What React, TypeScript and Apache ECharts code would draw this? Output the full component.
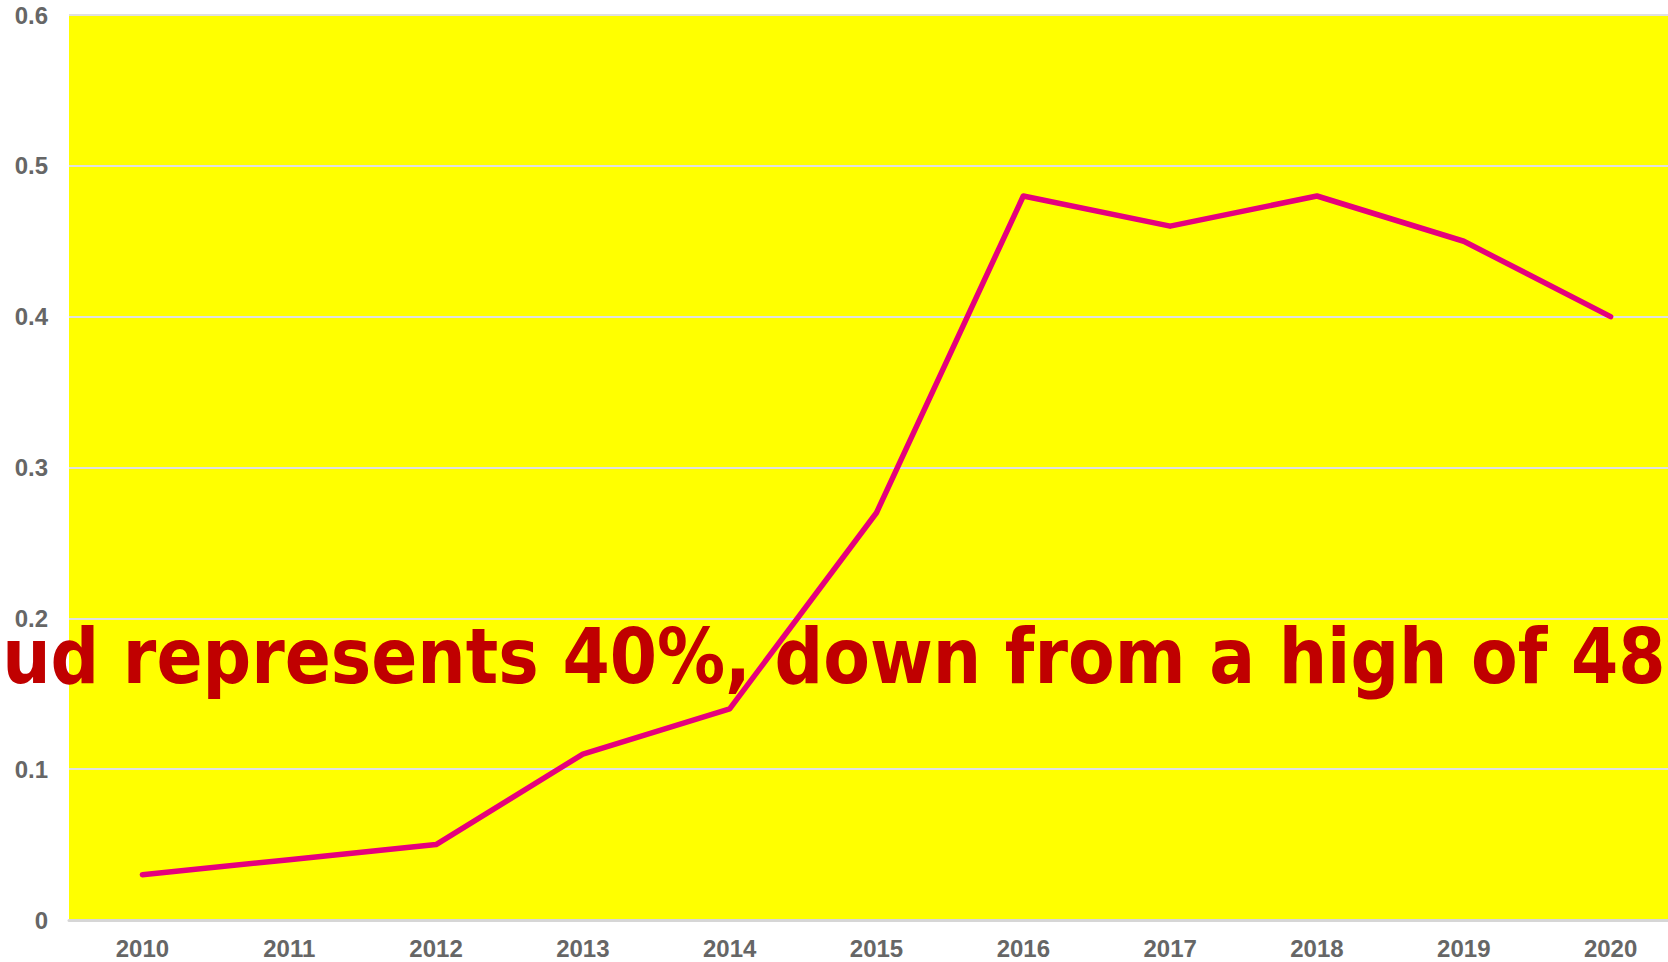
import React, { useEffect, useRef } from "react";
import * as echarts from "echarts";

const years = ["2010", "2011", "2012", "2013", "2014", "2015", "2016", "2017", "2018", "2019", "2020"];
const share = [0.03, 0.04, 0.05, 0.11, 0.14, 0.27, 0.48, 0.46, 0.48, 0.45, 0.4];
const yTicks = { min: 0, max: 0.6, interval: 0.1 };
const headline = "Cloud represents 40%, down from a high of 48%";

export default function App() {
  const ref = useRef<HTMLDivElement>(null);
  useEffect(() => {
    if (!ref.current) return;
    const chart = echarts.init(ref.current, undefined, { renderer: "svg" });
    const labelFont = { color: "#666666", fontSize: 24, fontWeight: "bold" as const, fontFamily: "Liberation Sans, Arial, sans-serif" };
    chart.setOption({
      animation: false,
      backgroundColor: "#ffffff",
      grid: {
        left: 69,
        right: 0,
        top: 15,
        bottom: 42,
        show: true,
        backgroundColor: "#ffff00",
        borderWidth: 0,
        containLabel: false,
      },
      xAxis: {
        type: "category",
        data: years,
        boundaryGap: true,
        axisTick: { show: false },
        axisLine: { show: true, lineStyle: { color: "#d6d6d6", width: 3 } },
        axisLabel: { ...labelFont, margin: 16 },
        splitLine: { show: false },
      },
      yAxis: {
        type: "value",
        min: yTicks.min,
        max: yTicks.max,
        interval: yTicks.interval,
        axisLine: { show: false },
        axisTick: { show: false },
        axisLabel: { ...labelFont, margin: 21 },
        splitLine: { show: true, lineStyle: { color: "#e0e0e0", width: 2 } },
      },
      graphic: [
        {
          type: "text",
          z: 1,
          x: 808,
          y: 656,
          scaleX: 0.883,
          style: {
            text: headline,
            fill: "#c00000",
            font: "bold 77px 'DejaVu Sans'",
            align: "center",
            verticalAlign: "middle",
          },
        },
      ],
      series: [
        {
          type: "line",
          data: share,
          z: 3,
          showSymbol: false,
          symbol: "none",
          lineStyle: { color: "#e5007d", width: 5.5, cap: "round", join: "round" },
        },
      ],
    });
    return () => chart.dispose();
  }, []);
  return (
    <div style={{ position: "fixed", left: 0, top: 0, width: 1668, height: 962, overflow: "hidden" }}>
      <div ref={ref} style={{ position: "absolute", left: 0, top: 0, width: 1684, height: 962 }} />
    </div>
  );
}
